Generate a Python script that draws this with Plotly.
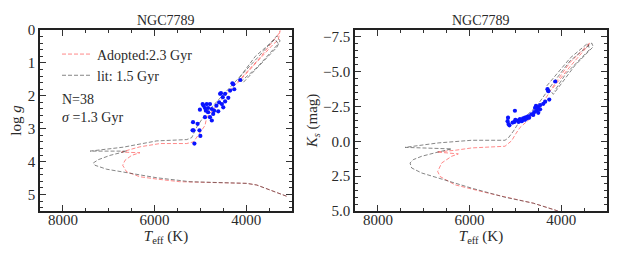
import plotly.graph_objects as go

# ---------------- data ----------------
# Isochrone "Adopted: 2.3 Gyr" (Teff, log g)
adopt_teff_g = [3120, 3480, 3770, 3990, 4720, 5450, 5950, 6320, 6610, 6695, 6645, 6500, 6320,
                6720, 6500, 6320, 5880, 5300, 5150, 5007, 4898, 4862, 4425, 4062, 3698, 3298, 3260,
                3300, 3407, 4207]
adopt_logg = [5.05, 4.86, 4.71, 4.66, 4.64, 4.61, 4.53, 4.46, 4.31, 4.11, 3.96, 3.81, 3.73,
              3.71, 3.62, 3.55, 3.45, 3.45, 3.40, 3.10, 2.90, 2.65, 1.94, 1.39, 0.84, 0.13, 0.02,
              0.30, 0.43, 1.64]
# Isochrone "lit: 1.5 Gyr" (Teff, log g)
lit_teff_g = [3120, 3480, 3770, 3990, 4720, 5225, 5953, 6681, 7045, 7300, 7336, 7227, 6972, 6607,
              7408, 6681, 5953, 5297, 5188, 5079, 4970, 4789, 4425, 4062, 3698, 3333,
              3261, 3333, 3700, 4062, 4171, 3800, 3370, 3300, 3750, 4100]
lit_logg = [5.05, 4.86, 4.71, 4.66, 4.64, 4.61, 4.49, 4.33, 4.23, 4.11, 4.04, 3.94, 3.81, 3.68,
            3.68, 3.56, 3.37, 3.33, 3.27, 2.95, 2.72, 2.40, 1.86, 1.31, 0.76, 0.18,
            0.33, 0.53, 1.05, 1.59, 1.49, 0.80, 0.28, 0.42, 1.12, 1.55]

# Isochrones in Ks (Teff, Ks)
adopt_teff_k = [3950, 4097, 4607, 5226, 5590, 6317, 6645, 6695, 6608, 6390, 6245, 6717, 6500, 6317,
                5953, 5226, 5190, 5080, 5000, 4898, 4534, 4171, 3807, 3406, 3370,
                3420, 3800, 4200]
adopt_ks = [5.20, 4.97, 4.44, 4.01, 3.72, 3.12, 2.52, 2.16, 1.55, 1.07, 0.90, 0.76, 0.70, 0.64,
            0.47, 0.35, 0.25, -0.05, -0.50, -1.00, -2.06, -3.98, -5.67, -6.99, -7.10,
            -6.85, -5.40, -3.75]
lit_teff_k = [3950, 4097, 4607, 5226, 5953, 6681, 7045, 7263, 7299, 7227, 7045, 6681, 6390, 7408,
              6681, 5953, 5226, 5153, 5044, 4935, 4534, 4171, 3807, 3333,
              3300, 3700, 4171, 4316, 3800, 3420, 3380, 3900, 4150]
lit_ks = [5.20, 4.97, 4.44, 4.01, 3.36, 2.64, 2.27, 1.91, 1.55, 1.31, 1.07, 0.76, 0.54, 0.43,
          0.11, -0.08, -0.08, -0.25, -0.73, -1.30, -2.53, -4.22, -5.78, -7.06,
          -6.80, -5.45, -3.38, -3.98, -6.00, -7.05, -6.60, -4.85, -3.60]

# Observed stars (N=38)
star_teff = [5160, 5170, 5130, 5150, 5020, 5000, 5010, 4950, 4930, 4900, 4860, 4830, 4830, 4790,
             4790, 4750, 4750, 4720, 4700, 4900, 4610, 4590, 4570, 4530, 4510, 4460, 4460, 4390,
             4550, 4350, 4300, 4280, 4260, 4130, 4500, 4650, 5060, 4880]
star_logg = [2.80, 3.05, 3.45, 3.05, 3.05, 3.22, 2.42, 2.25, 2.30, 2.37, 2.25, 2.37, 2.50, 2.25,
             2.65, 2.40, 2.75, 2.55, 2.45, 2.65, 2.47, 2.20, 1.94, 2.25, 2.04, 2.17, 1.94, 2.06,
             1.92, 1.84, 1.62, 1.65, 1.80, 1.52, 2.35, 2.30, 2.85, 2.45]
star_ks = [-1.70, -1.45, -1.15, -1.25, -1.40, -1.55, -2.20, -1.50, -1.40, -1.55, -1.45, -1.65, -1.60,
           -1.70, -1.55, -1.75, -1.65, -1.80, -1.70, -1.60, -1.90, -2.10, -2.40, -2.20, -2.45, -2.30,
           -2.60, -2.70, -2.55, -2.85, -3.75, -3.60, -3.00, -4.30, -2.05, -1.95, -1.35, -1.50]

title_text = "NGC7789"
label_adopt = "Adopted:2.3 Gyr"
label_lit = "lit: 1.5 Gyr"

# ---------------- figure ----------------
FONT = "Liberation Serif"
TXT = "#2a2a2a"
RED = "rgba(255,40,40,0.55)"
GRAY = "rgba(60,60,60,0.62)"
DASH = "4px,2px"
BLUE = "#0a14ff"

fig = go.Figure()

fig.add_trace(go.Scatter(x=adopt_teff_g, y=adopt_logg, mode="lines", name=label_adopt,
                         line=dict(color=RED, width=1, dash=DASH), xaxis="x", yaxis="y"))
fig.add_trace(go.Scatter(x=lit_teff_g, y=lit_logg, mode="lines", name=label_lit,
                         line=dict(color=GRAY, width=1, dash=DASH), xaxis="x", yaxis="y"))
fig.add_trace(go.Scatter(x=star_teff, y=star_logg, mode="markers", showlegend=False,
                         marker=dict(color=BLUE, size=4.2, line=dict(width=0)),
                         xaxis="x", yaxis="y"))

fig.add_trace(go.Scatter(x=adopt_teff_k, y=adopt_ks, mode="lines", showlegend=False,
                         line=dict(color=RED, width=1, dash=DASH), xaxis="x2", yaxis="y2"))
fig.add_trace(go.Scatter(x=lit_teff_k, y=lit_ks, mode="lines", showlegend=False,
                         line=dict(color=GRAY, width=1, dash=DASH), xaxis="x2", yaxis="y2"))
fig.add_trace(go.Scatter(x=star_teff, y=star_ks, mode="markers", showlegend=False,
                         marker=dict(color=BLUE, size=4.2, line=dict(width=0)),
                         xaxis="x2", yaxis="y2"))

# the page body has an 8 px margin: the figure is made 8 px smaller and
# all target pixel positions are shifted by that offset
OFF = 8
W, H = 623 - OFF, 260 - OFF
ML, MT = 40 - OFF, 29.5 - OFF
MR = W - (607 - OFF)
MB = H - (211 - OFF)
PW = W - ML - MR
PH = H - MT - MB

common_axis = dict(showgrid=False, zeroline=False, showline=True, linecolor="#222",
                   linewidth=1.5, mirror="allticks", ticks="inside", ticklen=6, tickwidth=1,
                   tickcolor="#333", automargin=False,
                   tickfont=dict(family=FONT, size=15, color=TXT))

xax = dict(common_axis, range=[8500, 3000], tickvals=[8000, 6000, 4000], ticklabelstandoff=-6,
           minor=dict(ticks="inside", ticklen=3, tickwidth=1, tickcolor="#333", dtick=500),
           title=dict(text="<i>T</i><sub>eff</sub> (K)", font=dict(family=FONT, size=15, color=TXT),
                      standoff=4))

fig.update_layout(
    width=W, height=H,
    margin=dict(l=ML, r=MR, t=MT, b=MB, autoexpand=False),
    paper_bgcolor="white", plot_bgcolor="white",
    font=dict(family=FONT, size=14, color=TXT),
    xaxis=dict(xax, domain=[0, 252 / PW], anchor="y"),
    yaxis=dict(common_axis, domain=[0, 1], anchor="x", range=[5.5, 0], dtick=1,
               minor=dict(ticks="inside", ticklen=3, tickwidth=1, tickcolor="#333", dtick=0.2),
               title=dict(text="log <i>g</i>", font=dict(family=FONT, size=15, color=TXT),
                          standoff=4)),
    xaxis2=dict(xax, domain=[(355 - 40) / PW, 1], anchor="y2"),
    yaxis2=dict(common_axis, domain=[0, 1], anchor="x2", range=[5, -8],
                tickvals=[-7.5, -5.0, -2.5, 0.0, 2.5, 5.0], tickformat=".1f",
                minor=dict(ticks="inside", ticklen=3, tickwidth=1, tickcolor="#333", dtick=0.5),
                title=dict(text="<i>K</i><sub><i>s</i></sub> (mag)",
                           font=dict(family=FONT, size=15, color=TXT), standoff=2)),
    legend=dict(x=(57 - 40) / PW, y=1 - (38 - 29.5) / PH, xanchor="left", yanchor="top",
                bgcolor="rgba(0,0,0,0)", font=dict(family=FONT, size=14, color=TXT),
                tracegroupgap=0),
    showlegend=True,
    annotations=[
        dict(text=title_text, x=166, y=20, xanchor="center"),
        dict(text=title_text, x=481, y=20, xanchor="center"),
        dict(text="N=38", x=60, y=99, xanchor="left"),
        dict(text="<i>σ</i> =1.3 Gyr", x=60, y=117, xanchor="left"),
    ],
)

# convert screen-pixel positions of annotations into paper coordinates of the plot area
for a in fig.layout.annotations:
    a.x = (a.x - 40) / PW
    a.y = 1 - (a.y - 29.5) / PH
    a.xref = "paper"
    a.yref = "paper"
    a.yanchor = "middle"
    a.showarrow = False
    a.font = dict(family=FONT, size=14, color=TXT)

fig.write_html("out.html")
